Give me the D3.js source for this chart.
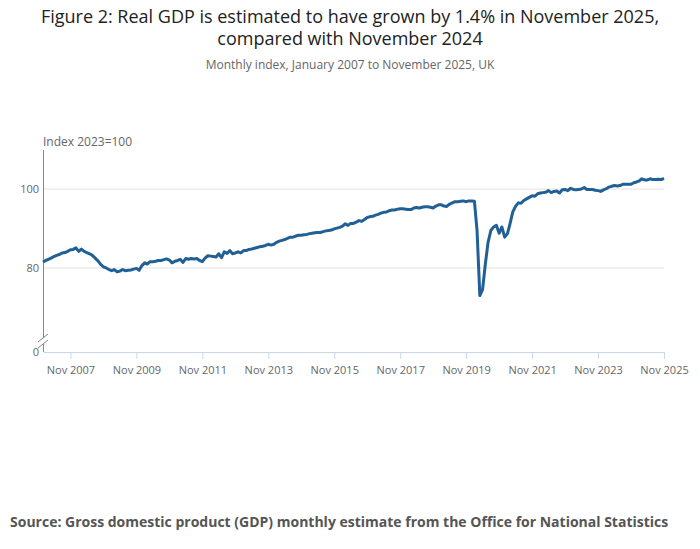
<!DOCTYPE html>
<html><head><meta charset="utf-8">
<script src="https://cdn.jsdelivr.net/npm/d3@7"></script>
<style>body{margin:0;background:#fff;font-family:"Open Sans",sans-serif}</style>
</head><body><svg id="c" width="700" height="549"></svg>
<script>
const startYear = 2007;
const gdp2007 = [81.5,81.9,82.2,82.5,82.9,83.2,83.4,83.8,83.9,84.2,84.6,84.7];
const gdp2008 = [85.1,84.2,84.8,84.2,83.9,83.6,83.2,82.5,81.8,80.9,80.3,80.0];
const gdp2009 = [79.6,79.3,79.6,79.0,79.2,79.6,79.3,79.4,79.5,79.7,79.9,79.4];
const gdp2010 = [80.6,81.3,81.0,81.6,81.6,81.7,81.9,81.9,82.1,82.3,82.0,81.3];
const gdp2011 = [81.7,81.9,82.2,81.4,82.4,82.2,82.4,82.3,82.4,81.9,81.6,82.5];
const gdp2012 = [83.1,83.0,82.9,82.8,83.6,82.6,84.1,83.7,84.4,83.6,83.8,84.1];
const gdp2013 = [83.8,84.4,84.4,84.7,84.8,85.0,85.2,85.4,85.5,85.7,86.0,85.8];
const gdp2014 = [86.0,86.5,86.8,87.0,87.2,87.5,87.8,87.8,88.1,88.3,88.3,88.4];
const gdp2015 = [88.5,88.7,88.8,88.9,89.0,89.0,89.2,89.4,89.5,89.6,89.9,90.1];
const gdp2016 = [90.3,90.6,91.2,90.8,91.3,91.3,91.6,92.0,91.8,92.3,92.8,93.0];
const gdp2017 = [93.1,93.4,93.6,93.9,94.1,94.2,94.5,94.7,94.7,94.9,95.0,95.0];
const gdp2018 = [94.9,94.8,94.8,95.2,95.3,95.2,95.4,95.5,95.5,95.4,95.2,95.7];
const gdp2019 = [96.0,96.0,95.7,95.6,96.2,96.5,96.8,96.8,96.9,97.0,96.8,97.0];
const gdp2020 = [97.0,96.9,89.5,73.0,74.5,81.0,86.5,89.5,90.4,90.8,88.8,90.4];
const gdp2021 = [87.8,88.7,91.2,94.2,95.6,96.5,96.4,97.1,97.5,97.9,98.3,98.2];
const gdp2022 = [98.8,99.0,99.1,99.2,99.6,99.1,99.4,99.5,99.0,99.8,99.9,99.6];
const gdp2023 = [100.2,99.9,99.8,99.9,100.0,100.4,99.9,99.9,99.9,99.7,99.6,99.4];
const gdp2024 = [99.8,100.1,100.5,100.7,100.9,100.8,100.9,101.2,101.2,101.2,101.2,101.6];
const gdp2025 = [101.8,102.1,102.6,102.3,102.3,102.6,102.4,102.4,102.5,102.4,102.7];
const gdpValues = [].concat(gdp2007,gdp2008,gdp2009,gdp2010,gdp2011,gdp2012,gdp2013,gdp2014,gdp2015,gdp2016,gdp2017,gdp2018,gdp2019,gdp2020,gdp2021,gdp2022,gdp2023,gdp2024,gdp2025);
const yTicks = [80,100];
const xTickYears = [2007,2009,2011,2013,2015,2017,2019,2021,2023,2025];

const data = gdpValues.map((v,i)=>({d:new Date(startYear, i, 1), v}));
const svg = d3.select("#c");
const L=43,R=664,T=150,B=352;
const x = d3.scaleTime().domain([data[0].d, data[data.length-1].d]).range([L,R]);
const y = d3.scaleLinear().domain([58.7,109.9]).range([B,T]);

svg.append("text").attr("x",350).attr("y",23).attr("text-anchor","middle").attr("font-size",18).attr("fill","#222").text("Figure 2: Real GDP is estimated to have grown by 1.4% in November 2025,");
svg.append("text").attr("x",350).attr("y",45).attr("text-anchor","middle").attr("font-size",18).attr("fill","#222").text("compared with November 2024");
svg.append("text").attr("x",350).attr("y",69).attr("text-anchor","middle").attr("font-size",12).attr("fill","#666").text("Monthly index, January 2007 to November 2025, UK");

// gridlines & y labels
yTicks.forEach(t=>{
  svg.append("line").attr("x1",L).attr("x2",R).attr("y1",y(t)).attr("y2",y(t)).attr("stroke","#e2e2e2");
  svg.append("text").attr("x",L-4).attr("y",y(t)+4).attr("text-anchor","end").attr("font-size",11).attr("fill","#666").text(t);
});
svg.append("text").attr("x",L-4).attr("y",B+4).attr("text-anchor","end").attr("font-size",11).attr("fill","#666").text("0");
svg.append("text").attr("x",L).attr("y",T-4).attr("font-size",12).attr("fill","#666").text("Index 2023=100");

// y axis with break
svg.append("line").attr("x1",L+0.5).attr("x2",L+0.5).attr("y1",T).attr("y2",B-14).attr("stroke","#888");
svg.append("line").attr("x1",L+0.5).attr("x2",L+0.5).attr("y1",B-8).attr("y2",B).attr("stroke","#888");
[[B-14],[B-8]].forEach(([yy])=>svg.append("line").attr("x1",L-5).attr("x2",L+5).attr("y1",yy+4).attr("y2",yy-4).attr("stroke","#888"));

// x axis
const xg = svg.append("g").attr("transform",`translate(0,${B})`)
  .call(d3.axisBottom(x).tickValues(xTickYears.map(yr=>new Date(yr,10,1))).tickFormat(d3.timeFormat("Nov %Y")).tickSize(7).tickSizeOuter(0));
xg.select(".domain").attr("stroke","#ccd6eb");
xg.selectAll(".tick line").attr("stroke","#ccd6eb");
xg.selectAll("text").attr("font-size",11).attr("fill","#666").attr("font-family","Open Sans").attr("dy","1.1em");

svg.append("path").datum(data).attr("fill","none").attr("stroke","#206095").attr("stroke-width",3).attr("stroke-linejoin","round")
  .attr("d",d3.line().x(d=>x(d.d)).y(d=>y(d.v)));

svg.append("text").attr("x",10).attr("y",527).attr("font-size",14).attr("font-weight","bold").attr("fill","#555").text("Source: Gross domestic product (GDP) monthly estimate from the Office for National Statistics");
</script></body></html>
